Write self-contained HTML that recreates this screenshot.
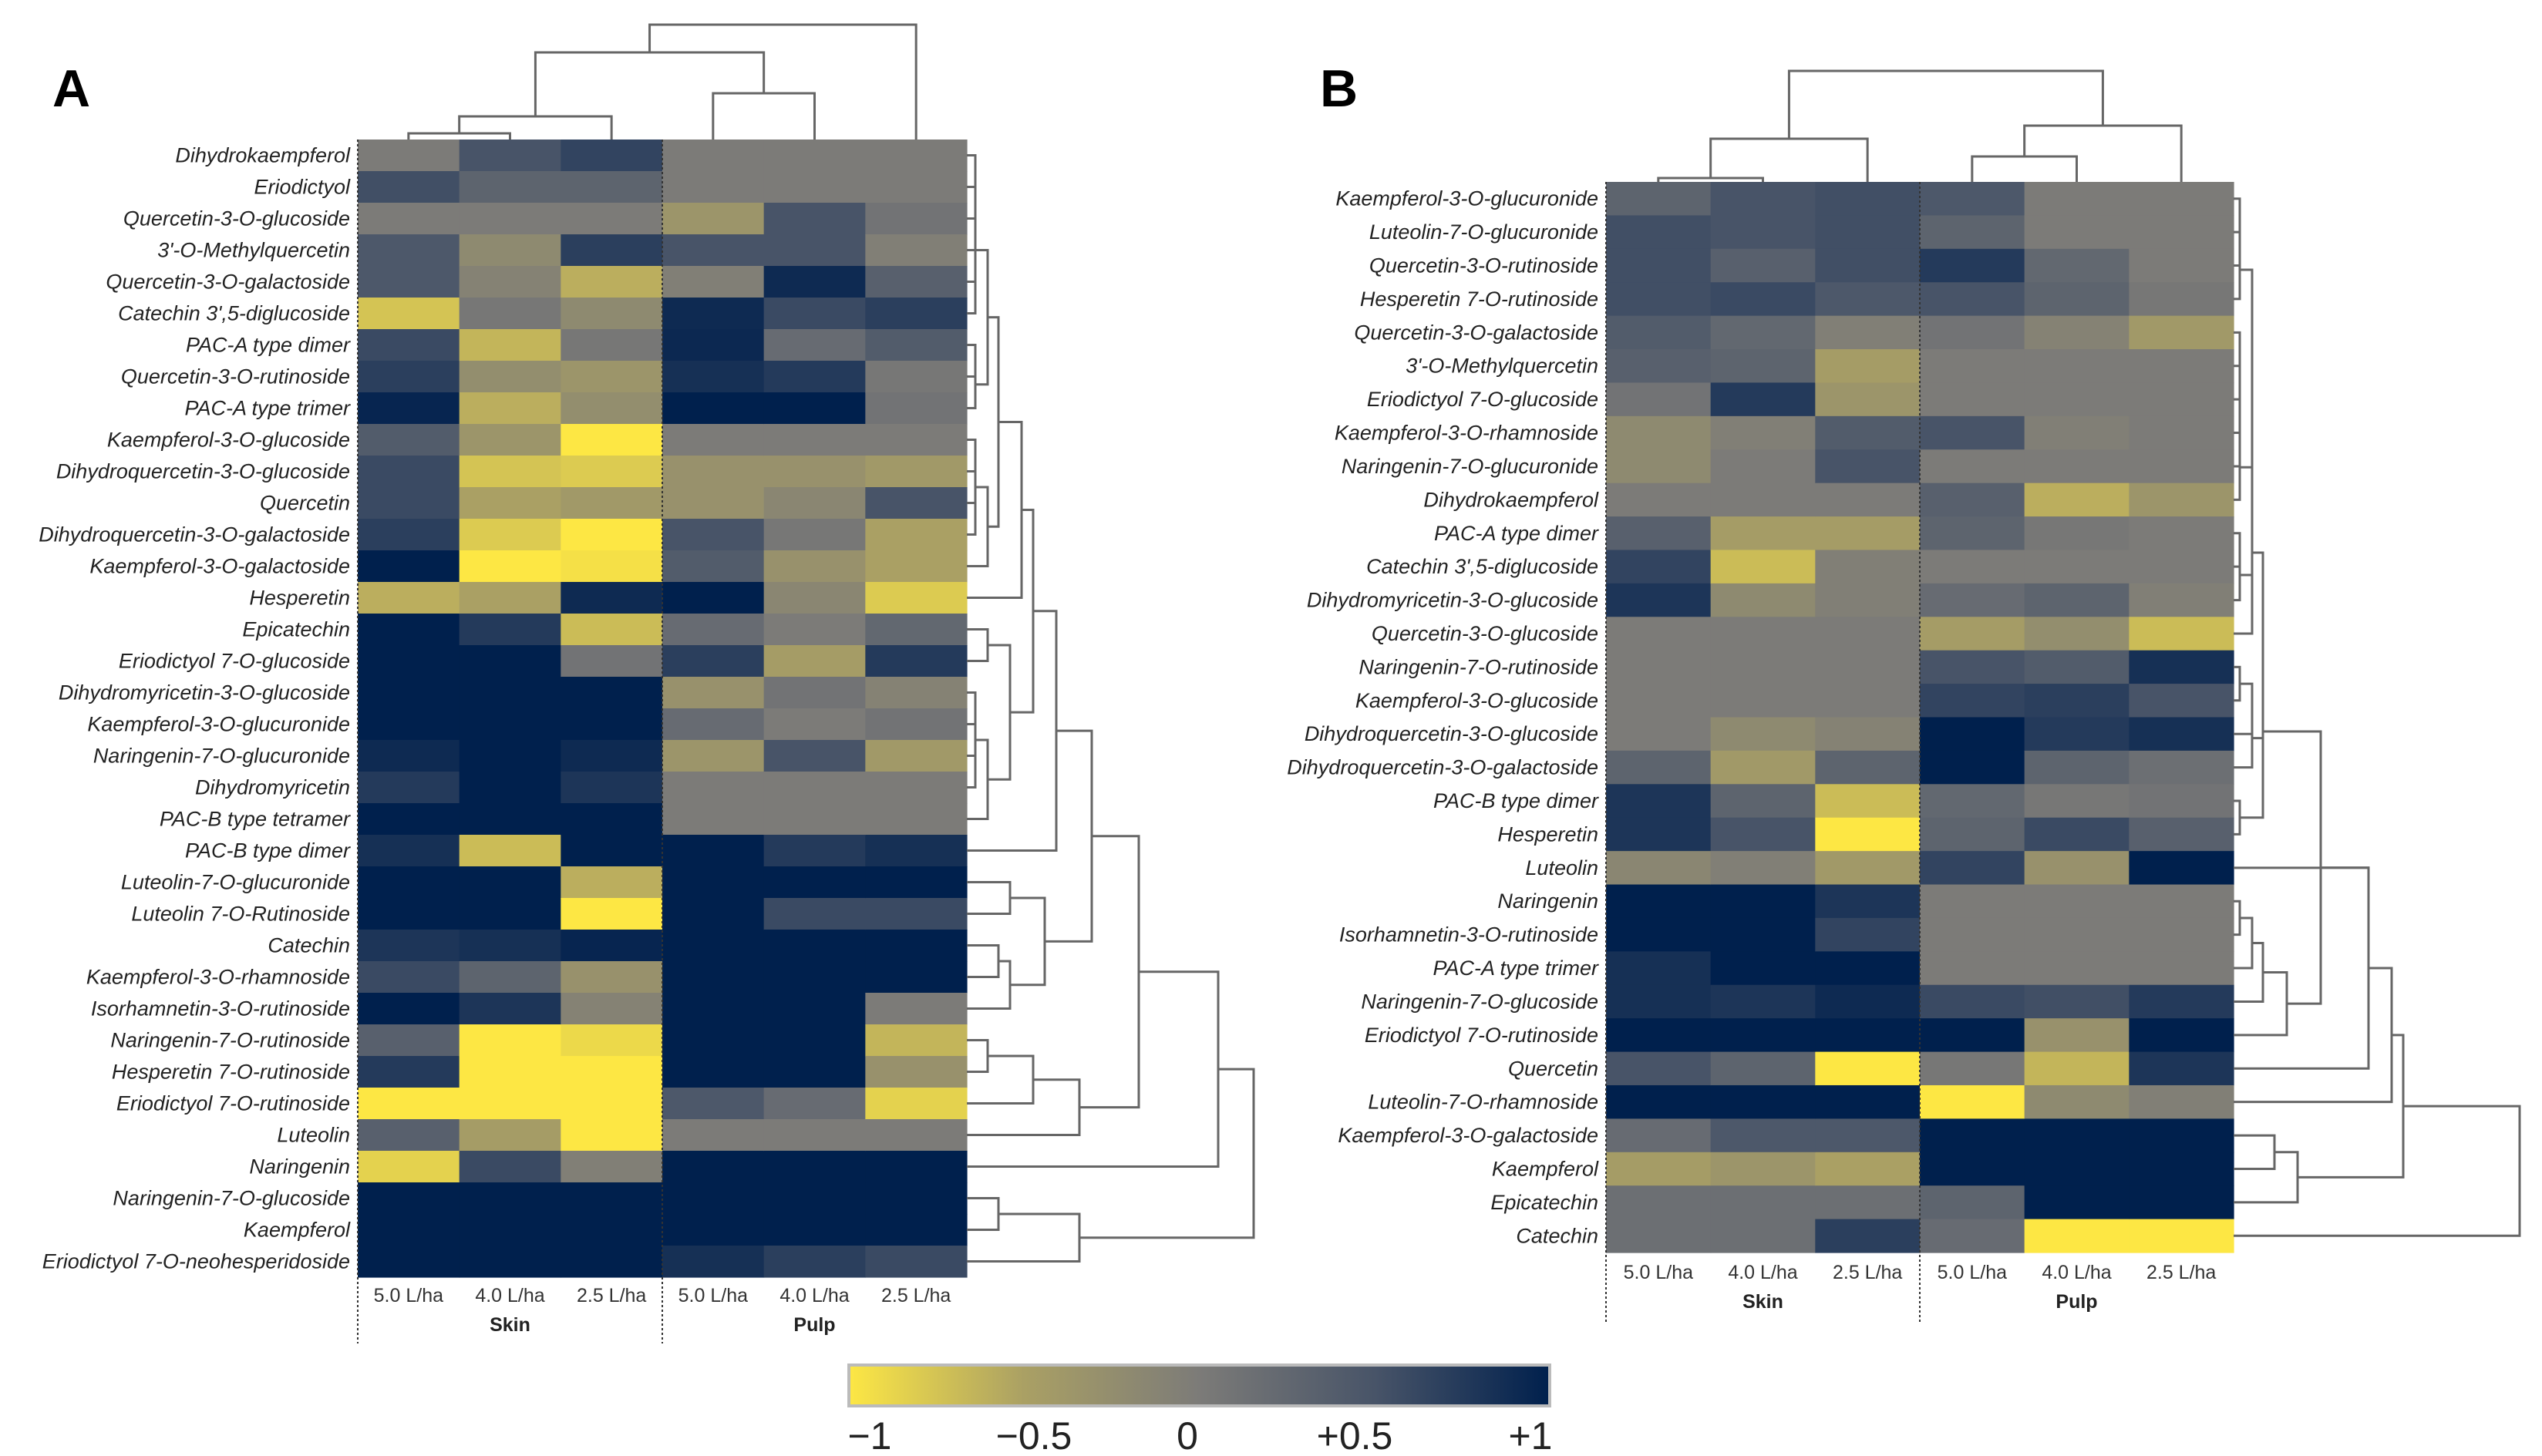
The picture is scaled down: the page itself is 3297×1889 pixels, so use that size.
<!DOCTYPE html>
<html><head><meta charset="utf-8">
<style>
html,body{margin:0;padding:0;background:#fff;}
svg{display:block;}
.lbl{font-family:"Liberation Sans",sans-serif;font-style:italic;font-size:27px;fill:#222;}
.col{font-family:"Liberation Sans",sans-serif;font-size:25px;fill:#333;}
.grp{font-family:"Liberation Sans",sans-serif;font-size:25px;font-weight:bold;fill:#222;}
.cb{font-family:"Liberation Sans",sans-serif;font-size:50px;fill:#222;}
.pl{font-family:"Liberation Sans",sans-serif;font-size:68px;font-weight:bold;fill:#000;}
</style></head>
<body>
<svg id="fig" width="3297" height="1889" viewBox="0 0 3297 1889" xmlns="http://www.w3.org/2000/svg">
<defs>
<linearGradient id="cbg" x1="0" x2="1" y1="0" y2="0">
<stop offset="0" stop-color="rgb(253,231,68)"/>
<stop offset="0.25" stop-color="rgb(170,160,100)"/>
<stop offset="0.5" stop-color="rgb(124,123,120)"/>
<stop offset="0.75" stop-color="rgb(72,84,104)"/>
<stop offset="1" stop-color="rgb(0,32,77)"/>
</linearGradient>
</defs>
<text class="pl" x="68" y="138">A</text>
<text class="pl" x="1712" y="138">B</text>
<g id="colorbar">
<rect x="1101" y="1771" width="909" height="53" fill="url(#cbg)" stroke="#bbb" stroke-width="4"/>
<text class="cb" x="1128" y="1880" text-anchor="middle">−1</text>
<text class="cb" x="1341" y="1880" text-anchor="middle">−0.5</text>
<text class="cb" x="1540" y="1880" text-anchor="middle">0</text>
<text class="cb" x="1757" y="1880" text-anchor="middle">+0.5</text>
<text class="cb" x="1985" y="1880" text-anchor="middle">+1</text>
</g>
</svg>
<script>
// ---------- data ----------
const colLabels = ["5.0 L/ha","4.0 L/ha","2.5 L/ha","5.0 L/ha","4.0 L/ha","2.5 L/ha"];
const groupLabels = ["Skin","Pulp"];
const rowsA = ["Dihydrokaempferol","Eriodictyol","Quercetin-3-O-glucoside","3'-O-Methylquercetin","Quercetin-3-O-galactoside","Catechin 3',5-diglucoside","PAC-A type dimer","Quercetin-3-O-rutinoside","PAC-A type trimer","Kaempferol-3-O-glucoside","Dihydroquercetin-3-O-glucoside","Quercetin","Dihydroquercetin-3-O-galactoside","Kaempferol-3-O-galactoside","Hesperetin","Epicatechin","Eriodictyol 7-O-glucoside","Dihydromyricetin-3-O-glucoside","Kaempferol-3-O-glucuronide","Naringenin-7-O-glucuronide","Dihydromyricetin","PAC-B type tetramer","PAC-B type dimer","Luteolin-7-O-glucuronide","Luteolin 7-O-Rutinoside","Catechin","Kaempferol-3-O-rhamnoside","Isorhamnetin-3-O-rutinoside","Naringenin-7-O-rutinoside","Hesperetin 7-O-rutinoside","Eriodictyol 7-O-rutinoside","Luteolin","Naringenin","Naringenin-7-O-glucoside","Kaempferol","Eriodictyol 7-O-neohesperidoside"];
const aSkin50 = [0,0.55,0,0.45,0.45,-0.75,0.6,0.7,0.95,0.4,0.6,0.6,0.7,1,-0.6,1,1,1,1,0.9,0.75,1,0.85,1,1,0.8,0.6,1,0.35,0.75,-1,0.35,-0.85,1,1,1];
const aSkin40 = [0.5,0.3,0,-0.2,-0.1,0.05,-0.65,-0.25,-0.6,-0.35,-0.75,-0.5,-0.8,-1,-0.5,0.75,1,1,1,1,1,1,-0.7,1,1,0.85,0.3,0.8,-1,-1,-1,-0.45,0.6,1,1,1];
const aSkin25 = [0.65,0.3,0,0.7,-0.6,-0.2,0.05,-0.35,-0.25,-1,-0.8,-0.4,-1,-0.95,0.9,-0.7,0.1,1,1,0.9,0.8,1,1,-0.6,-1,0.95,-0.3,-0.1,-0.9,-1,-1,-1,-0.05,1,1,1];
const aPulp50 = [0,0,-0.35,0.5,-0.05,0.9,0.92,0.85,1,0,-0.3,-0.3,0.5,0.4,1,0.2,0.7,-0.3,0.2,-0.35,0,0,1,1,1,1,1,1,1,1,0.45,0,1,1,1,0.85];
const aPulp40 = [0,0,0.5,0.5,0.9,0.6,0.2,0.75,1,0,-0.3,-0.15,0.05,-0.3,-0.15,0,-0.45,0.1,0,0.5,0,0,0.75,1,0.6,1,1,1,1,1,0.2,0,1,1,1,0.7];
const aPulp25 = [0,0,0.1,-0.05,0.35,0.7,0.4,0.05,0.1,0,-0.4,0.5,-0.5,-0.5,-0.8,0.25,0.75,-0.1,0.1,-0.4,0,0,0.85,1,0.6,1,1,0,-0.65,-0.3,-0.85,0,1,1,1,0.6];

const rowsB = ["Kaempferol-3-O-glucuronide","Luteolin-7-O-glucuronide","Quercetin-3-O-rutinoside","Hesperetin 7-O-rutinoside","Quercetin-3-O-galactoside","3'-O-Methylquercetin","Eriodictyol 7-O-glucoside","Kaempferol-3-O-rhamnoside","Naringenin-7-O-glucuronide","Dihydrokaempferol","PAC-A type dimer","Catechin 3',5-diglucoside","Dihydromyricetin-3-O-glucoside","Quercetin-3-O-glucoside","Naringenin-7-O-rutinoside","Kaempferol-3-O-glucoside","Dihydroquercetin-3-O-glucoside","Dihydroquercetin-3-O-galactoside","PAC-B type dimer","Hesperetin","Luteolin","Naringenin","Isorhamnetin-3-O-rutinoside","PAC-A type trimer","Naringenin-7-O-glucoside","Eriodictyol 7-O-rutinoside","Quercetin","Luteolin-7-O-rhamnoside","Kaempferol-3-O-galactoside","Kaempferol","Epicatechin","Catechin"];
const bSkin50 = [0.3,0.55,0.55,0.55,0.4,0.35,0.1,-0.2,-0.2,0,0.35,0.65,0.8,0,0,0,0,0.3,0.8,0.8,-0.15,1,1,0.85,0.85,1,0.5,1,0.2,-0.45,0.15,0.15];
const bSkin40 = [0.5,0.5,0.35,0.6,0.25,0.3,0.75,-0.05,0,0,-0.45,-0.7,-0.2,0,0,0,-0.2,-0.4,0.3,0.5,-0.05,1,1,1,0.8,1,0.3,1,0.45,-0.35,0.15,0.15];
const bSkin25 = [0.55,0.55,0.55,0.45,-0.05,-0.45,-0.35,0.4,0.5,0,-0.45,-0.05,-0.05,0,0,0,-0.1,0.3,-0.7,-1,-0.4,0.8,0.65,1,0.9,1,-1,1,0.45,-0.5,0.15,0.7];
const bPulp50 = [0.45,0.3,0.75,0.5,0.1,0,0,0.5,0,0.35,0.3,0,0.2,-0.45,0.5,0.65,1,1,0.25,0.3,0.65,0,0,0,0.6,1,0.05,-1,1,1,0.3,0.2];
const bPulp40 = [0,0,0.25,0.3,-0.1,0,0,-0.05,0,-0.6,0.05,0,0.3,-0.25,0.4,0.7,0.75,0.3,0.05,0.6,-0.3,0,0,0,0.55,-0.3,-0.65,-0.2,1,1,1,-1];
const bPulp25 = [0,0,0,0.05,-0.4,0,0,0,0,-0.35,0,0,-0.05,-0.7,0.85,0.5,0.85,0.15,0.1,0.35,1,0,0,0,0.75,1,0.8,-0.05,1,1,1,-1];

// dendrogram topologies: [left, right, height]
const a1=[[[0,1,11],[2,3,11],11],[4,5,11],11];
const a2=[[6,7,11],8,11];
const a3=[a1,a2,27];
const a4=[[[9,10,11],[11,12,11],11],13,27];
const a5=[a3,a4,41];
const a6=[a5,14,71];
const a7=[[15,16,27],[[[17,18,11],[19,20,11],11],21,27],56];
const a8=[a6,a7,86];
const a9=[a8,22,116];
const a10=[[23,24,56],[[25,26,41],27,56],101];
const a11=[a9,a10,162];
const a12=[[[28,29,27],30,86],31,146];
const a13=[a11,a12,223];
const a14=[a13,32,326];
const a15=[[33,34,41],35,146];
const treeRowsA=[a14,a15,372];
const treeColsA=[[[[0,1,8],2,30],[3,4,60],113],5,149];

const b1=[[[0,1,8],2,8],3,8];
const b2=[[[[[4,5,8],6,8],7,8],8,8],9,8];
const b3=[[10,11,8],12,8];
const b4=[[[b1,b2,24],b3,24],13,24];
const b5=[[[14,15,8],16,24],17,24];
const b6=[[b4,b5,38],[18,19,8],38];
const b7=[[[[21,22,8],23,24],24,38],25,69];
const b8=[b6,b7,113];
const b9=[[b8,20,175],26,175];
const b10=[b9,27,205];
const b11=[[28,29,53],30,83];
const b12=[b10,b11,220];
const treeRowsB=[b12,31,371];
const treeColsB=[[[0,1,5],2,56],[[3,4,33],5,73],144];

// ---------- drawing ----------
const NS = "http://www.w3.org/2000/svg";
const svg = document.getElementById("fig");
const stops = [[-1,[253,231,68]],[-0.5,[170,160,100]],[0,[124,123,120]],[0.5,[72,84,104]],[1,[0,32,77]]];
function colorOf(v){
  v = Math.max(-1, Math.min(1, v));
  for (let i=0;i<stops.length-1;i++){
    const a=stops[i][0], ca=stops[i][1], b=stops[i+1][0], cb=stops[i+1][1];
    if (v<=b){
      const t=(v-a)/(b-a);
      const rgb=[0,1,2].map(k=>Math.round(ca[k]+(cb[k]-ca[k])*t));
      return "rgb("+rgb.join(",")+")";
    }
  }
  return "rgb(0,32,77)";
}
function mk(tag, attrs, parent){
  const e = document.createElementNS(NS, tag);
  for (const k in attrs) e.setAttribute(k, attrs[k]);
  parent.appendChild(e);
  return e;
}
function drawTree(node, parent, pos, base, dir){
  if (typeof node === "number") return [pos(node), 0];
  const l=node[0], r=node[1], h=node[2];
  const L = drawTree(l, parent, pos, base, dir);
  const R = drawTree(r, parent, pos, base, dir);
  const pl=L[0], hl=L[1], pr=R[0], hr=R[1];
  let d;
  if (dir === "right") {
    const x = base + h;
    d = "M"+(base+hl)+","+pl+"H"+x+"V"+pr+"H"+(base+hr);
  } else {
    const y = base - h;
    d = "M"+pl+","+(base-hl)+"V"+y+"H"+pr+"V"+(base-hr);
  }
  const p = mk("path", {d:d, stroke:"#666", "stroke-width":3, fill:"none"}, parent);
  
  
  return [(pl+pr)/2, h];
}

function panel(cfg){
  const g = mk("g", {}, svg);
  
  
  const cols = cfg.cols;
  const nR = cfg.rows.length;
  const cw = (cfg.x1 - cfg.x0) / 6;
  const rh = (cfg.y1 - cfg.y0) / nR;
  const xS = c => cfg.x0 + c*cw;
  const yS = r => cfg.y0 + r*rh;
  for (let c=0;c<6;c++){
    for (let r=0;r<nR;r++){
      const rect = mk("rect", {x:xS(c), y:yS(r), width:cw+0.6, height:rh+0.6, fill:colorOf(cols[c][r])}, g);
      
      
    }
  }
  for (let r=0;r<nR;r++){
    const t = mk("text", {x:cfg.x0-10, y:yS(r)+rh/2+9, "text-anchor":"end", "class":"lbl"}, g);
    t.textContent = cfg.rows[r];
    
    
  }
  for (let c=0;c<6;c++){
    const t = mk("text", {x:xS(c)+cw/2, y:cfg.y1+cfg.colDy, "text-anchor":"middle", "class":"col"}, g);
    t.textContent = colLabels[c];
    
    
  }
  for (let k=0;k<2;k++){
    const t = mk("text", {x:xS(k*3)+cw*1.5, y:cfg.y1+cfg.colDy+38, "text-anchor":"middle", "class":"grp"}, g);
    t.textContent = groupLabels[k];
    
    
  }
  [xS(0), xS(3)].forEach(xx => {
    const ln = mk("line", {x1:xx, x2:xx, y1:cfg.y0, y2:cfg.y1+cfg.sepDy, stroke:"#333", "stroke-width":2, "stroke-dasharray":"3,3"}, g);
    
    
  });
  drawTree(cfg.rowTree, g, r => yS(r)+rh/2, cfg.x1, "right");
  drawTree(cfg.colTree, g, c => xS(c)+cw/2, cfg.y0, "up");
}

panel({name:"heatmap-panel-a", rows:rowsA, cols:[aSkin50,aSkin40,aSkin25,aPulp50,aPulp40,aPulp25],
  x0:464, x1:1254, y0:181, y1:1657, colDy:32, sepDy:86, rowTree:treeRowsA, colTree:treeColsA});
panel({name:"heatmap-panel-b", rows:rowsB, cols:[bSkin50,bSkin40,bSkin25,bPulp50,bPulp40,bPulp25],
  x0:2083, x1:2897, y0:236, y1:1625, colDy:34, sepDy:90, rowTree:treeRowsB, colTree:treeColsB});
</script>
</body></html>
